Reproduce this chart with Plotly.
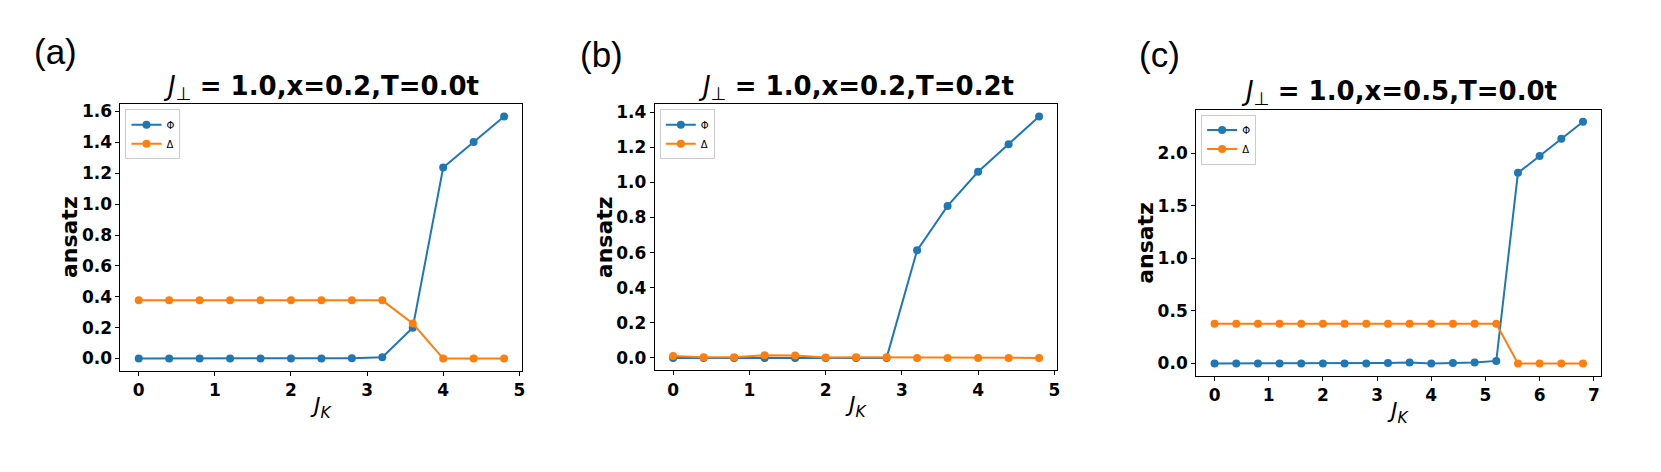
import plotly.graph_objects as go

# ---- data ----
jk_a = [0.0, 0.4, 0.8, 1.2, 1.6, 2.0, 2.4, 2.8, 3.2, 3.6, 4.0, 4.4, 4.8]
phi_a = [0.0, 0.0, 0.0, 0.0, 0.0, 0.0, 0.001, 0.002, 0.009, 0.20, 1.237, 1.402, 1.568]
delta_a = [0.377, 0.377, 0.377, 0.377, 0.377, 0.377, 0.377, 0.377, 0.377, 0.227, 0.0, 0.0, 0.0]

jk_b = [0.0, 0.4, 0.8, 1.2, 1.6, 2.0, 2.4, 2.8, 3.2, 3.6, 4.0, 4.4, 4.8]
phi_b = [-0.001, 0.0, 0.0, -0.001, -0.001, 0.0, 0.0, 0.0, 0.613, 0.866, 1.061, 1.217, 1.376]
delta_b = [0.011, 0.004, 0.004, 0.015, 0.013, 0.002, 0.004, 0.004, 0.0, 0.0, 0.0, 0.0, 0.0]

jk_c = [0.0, 0.4, 0.8, 1.2, 1.6, 2.0, 2.4, 2.8, 3.2, 3.6, 4.0, 4.4, 4.8, 5.2, 5.6, 6.0, 6.4, 6.8]
phi_c = [0.0, 0.0, 0.0, 0.0, 0.0, 0.0, 0.0, 0.0, 0.006, 0.009, 0.0, 0.006, 0.009, 0.025,
         1.812, 1.972, 2.135, 2.298]
delta_c = [0.377] * 14 + [0.0, 0.0, 0.0, 0.0]

titles = ["1.0,x=0.2,T=0.0t", "1.0,x=0.2,T=0.2t", "1.0,x=0.5,T=0.0t"]
panel_tags = ["(a)", "(b)", "(c)"]
ytick_steps = [0.2, 0.2, 0.5]

BLUE = "#1f77b4"
ORANGE = "#ff7f0e"
W, H = 1661, 472

# frame boxes in pixels (left, right, top, bottom)
boxes = [(120.7, 523.3, 102, 370), (656, 1059.3, 102, 369.5), (1198.3, 1604.3, 107.3, 375)]
tag_pos = [(56, 49), (603, 52), (1162, 52)]

panels = [(jk_a, phi_a, delta_a), (jk_b, phi_b, delta_b), (jk_c, phi_c, delta_c)]

fig = go.Figure()
annotations = []
tick_font = dict(family="DejaVu Sans", size=17, color="black", weight="bold")

for i, ((xs, phi, delta), (l, r, t, b)) in enumerate(zip(panels, boxes)):
    n = "" if i == 0 else str(i + 1)
    leg = "legend" + n
    fig.add_trace(go.Scatter(x=xs, y=phi, mode="lines+markers", name="Φ",
                             line=dict(color=BLUE, width=2), marker=dict(size=8, color=BLUE),
                             xaxis="x" + n, yaxis="y" + n, legend=leg))
    fig.add_trace(go.Scatter(x=xs, y=delta, mode="lines+markers", name="Δ",
                             line=dict(color=ORANGE, width=2), marker=dict(size=8, color=ORANGE),
                             xaxis="x" + n, yaxis="y" + n, legend=leg))

    # matplotlib-style 5% margins
    xmin, xmax = min(xs), max(xs)
    xpad = (xmax - xmin) * 0.05
    ymin, ymax = min(phi + delta), max(phi + delta)
    ypad = (ymax - ymin) * 0.05

    dx = [l / W, r / W]
    dy = [1 - b / H, 1 - t / H]
    fig.layout["xaxis" + n] = dict(
        domain=dx, anchor="y" + n, range=[xmin - xpad, xmax + xpad],
        dtick=1, tick0=0, showgrid=False, zeroline=False,
        showline=True, mirror=True, linecolor="black", linewidth=1,
        ticks="outside", ticklen=4, tickcolor="black", tickfont=tick_font)
    fig.layout["yaxis" + n] = dict(
        domain=dy, anchor="x" + n, range=[ymin - ypad, ymax + ypad],
        dtick=ytick_steps[i], tick0=0, tickformat=".1f", showgrid=False, zeroline=False,
        showline=True, mirror=True, linecolor="black", linewidth=1,
        ticks="outside", ticklen=4, tickcolor="black", tickfont=tick_font)
    fig.layout[leg] = dict(
        x=(l + 5) / W, y=1 - (t + 5) / H, xanchor="left", yanchor="top",
        bgcolor="rgba(255,255,255,0.8)", bordercolor="#cccccc", borderwidth=1,
        font=dict(family="DejaVu Sans", size=10, color="black"),
        itemwidth=30, tracegroupgap=0)

    cx = (l + r) / 2
    # panel title
    annotations.append(dict(
        text="<i>J</i><sub>⊥</sub> <b>= " + titles[i] + "</b>",
        x=cx / W, y=1 - (t - 17) / H, xref="paper", yref="paper",
        xanchor="center", yanchor="middle", showarrow=False,
        font=dict(family="DejaVu Sans", size=26, color="black")))
    # y axis label
    annotations.append(dict(
        text="<b>ansatz</b>", x=(l - 51) / W, y=1 - ((t + b) / 2) / H,
        xref="paper", yref="paper", xanchor="center", yanchor="middle",
        textangle=-90, showarrow=False,
        font=dict(family="DejaVu Sans", size=22, color="black")))
    # x axis label
    annotations.append(dict(
        text="<i>J</i><sub><i>K</i></sub>", x=cx / W, y=1 - (b + 37) / H,
        xref="paper", yref="paper", xanchor="center", yanchor="middle",
        showarrow=False, font=dict(family="DejaVu Sans", size=22, color="black")))
    # panel tag
    tx, ty = tag_pos[i]
    annotations.append(dict(
        text=panel_tags[i], x=tx / W, y=1 - ty / H, xref="paper", yref="paper",
        xanchor="center", yanchor="middle", showarrow=False,
        font=dict(family="Liberation Sans", size=35, color="black")))

fig.update_layout(
    width=W, height=H, margin=dict(l=0, r=0, t=0, b=0),
    paper_bgcolor="white", plot_bgcolor="white",
    annotations=annotations)

fig.write_html("out.html", config={"displayModeBar": False},
               post_script="document.body.style.margin='0';")
